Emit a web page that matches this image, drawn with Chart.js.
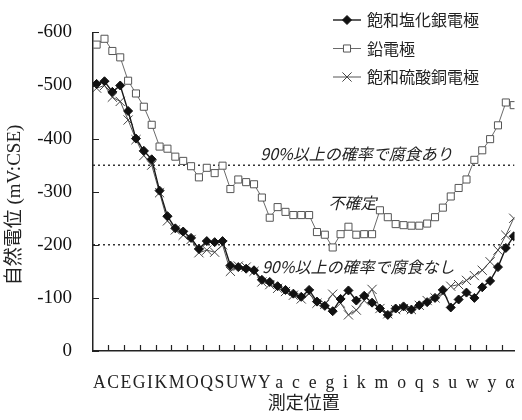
<!DOCTYPE html>
<html>
<head>
<meta charset="utf-8">
<script src="https://cdn.jsdelivr.net/npm/chart.js@4.4.0/dist/chart.umd.min.js"></script>
<style>
html, body { margin: 0; padding: 0; background: #fff; }
canvas { display: block; }
</style>
</head>
<body>
<canvas id="myChart" width="522" height="420"></canvas>
<script>
// tick letters under the x axis (every other measuring point)
var upperTicks = ['A','C','E','G','I','K','M','O','Q','S','U','W','Y'];
var lowerTicks = ['a','c','e','g','i','k','m','o','q','s','u','w','y','α'];

var seriesNames = ['飽和塩化銀電極', '鉛電極', '飽和硫酸銅電極'];

var agclValues = [-503,-508,-488,-500,-452,-400,-377,-361,-302,-254,
                  -231,-225,-213,-192,-207,-205,-207,-161,-158,-155,
                  -152,-134,-130,-122,-115,-108,-102,-115,-93,-85,
                  -75,-98,-114,-95,-104,-91,-80,-68,-80,-84,
                  -78,-86,-92,-100,-115,-82,-97,-110,-100,-120,
                  -132,-158,-194,-216];
var leadValues = [-577,-588,-565,-553,-509,-485,-460,-426,-385,-381,
                  -366,-358,-348,-327,-345,-335,-349,-305,-323,-318,
                  -314,-289,-251,-271,-262,-256,-256,-256,-224,-219,
                  -195,-220,-234,-219,-220,-220,-265,-252,-239,-237,
                  -236,-236,-240,-252,-270,-291,-307,-323,-360,-378,
                  -399,-425,-468,-463];
var cuso4Values = [-495,-500,-478,-470,-435,-398,-368,-350,-298,-245,
                   -228,-218,-210,-185,-190,-186,-200,-150,-160,-158,
                   -150,-130,-125,-118,-112,-105,-98,-108,-90,-88,
                   -107,-90,-68,-77,-95,-116,-80,-70,-78,-80,
                   -78,-86,-95,-100,-108,-122,-125,-133,-142,-152,
                   -168,-190,-218,-250];

// 90% probability borders
var thresholds = [-350, -200];
var zoneTexts = ['90%以上の確率で腐食あり', '不確定', '90%以上の確率で腐食なし'];

var xMin = -0.46, xMax = 53.1;

function toPoints(vals) {
  return vals.map(function(v, i) { return {x: i, y: v}; });
}

var xLabelRow = upperTicks.join('\u200A') + ' ' + lowerTicks.join('  ');

var serifCJK = '"Liberation Serif", "Noto Sans CJK JP"';

// where the zone captions sit (in data units)
var zoneAnchors = [
  {x: 20.8, y: -372, align: 'left'},
  {x: 32.5, y: -278, align: 'center'},
  {x: 21.0, y: -159, align: 'left'}
];

var zonePlugin = {
  id: 'zoneText',
  afterDatasetsDraw: function(chart) {
    var ctx = chart.ctx, xs = chart.scales.x, ys = chart.scales.y;
    ctx.save();
    ctx.font = 'italic 16px "Noto Sans CJK JP"';
    ctx.fillStyle = '#222';
    ctx.textBaseline = 'middle';
    zoneTexts.forEach(function(t, i) {
      var a = zoneAnchors[i];
      ctx.textAlign = a.align;
      ctx.fillText(t, xs.getPixelForValue(a.x), ys.getPixelForValue(a.y));
    });
    ctx.restore();
  }
};

// tick marks point into the plot, like the printed figure
var innerTicks = {
  id: 'innerTicks',
  afterDraw: function(chart) {
    var ctx = chart.ctx, xs = chart.scales.x, ys = chart.scales.y;
    var area = chart.chartArea;
    ctx.save();
    ctx.strokeStyle = '#222';
    ctx.lineWidth = 1.2;
    ctx.beginPath();
    xs.ticks.forEach(function(t) {
      var px = Math.round(xs.getPixelForValue(t.value)) + 0.5;
      ctx.moveTo(px, area.bottom);
      ctx.lineTo(px, area.bottom - 6);
    });
    ys.ticks.forEach(function(t) {
      var py = Math.round(ys.getPixelForValue(t.value)) + 0.5;
      ctx.moveTo(area.left, py);
      ctx.lineTo(area.left + 6, py);
    });
    ctx.stroke();
    ctx.restore();
  }
};

var yTitlePlugin = {
  id: 'yTitle',
  afterDraw: function(chart) {
    var ctx = chart.ctx;
    ctx.save();
    ctx.translate(15, 205);
    ctx.rotate(-Math.PI / 2);
    ctx.font = '19px ' + serifCJK;
    ctx.fillStyle = '#222';
    ctx.textAlign = 'center';
    ctx.textBaseline = 'middle';
    ctx.fillText('自然電位 (mV:CSE)', 0, 0);
    ctx.restore();
  }
};

var legendPlugin = {
  id: 'boxLegend',
  afterDraw: function(chart) {
    var ctx = chart.ctx;
    ctx.save();
    ctx.font = '16px "Noto Sans CJK JP"';
    ctx.textBaseline = 'middle';
    ctx.textAlign = 'left';
    for (var i = 0; i < seriesNames.length; i++) {
      var ds = chart.data.datasets[i];
      var y = 20 + i * 28.5;
      ctx.strokeStyle = ds.borderColor;
      ctx.lineWidth = ds.borderWidth;
      ctx.beginPath();
      ctx.moveTo(333, y);
      ctx.lineTo(361, y);
      ctx.stroke();
      ctx.fillStyle = ds.pointBackgroundColor;
      ctx.strokeStyle = ds.pointBorderColor;
      ctx.lineWidth = ds.pointBorderWidth;
      Chart.helpers.drawPoint(ctx, {
        pointStyle: ds.pointStyle, radius: ds.pointRadius,
        rotation: 0, borderWidth: ds.pointBorderWidth
      }, 347, y);
      ctx.fillStyle = '#222';
      ctx.fillText(ds.label, 367, y);
    }
    ctx.restore();
  }
};

var datasets = [{
  label: seriesNames[0],
  data: toPoints(agclValues),
  borderColor: '#1a1a1a',
  borderWidth: 1.4,
  pointStyle: 'rectRot',
  pointRadius: 4.5,
  pointBackgroundColor: '#111',
  pointBorderColor: '#111',
  pointBorderWidth: 1
}, {
  label: seriesNames[1],
  data: toPoints(leadValues),
  borderColor: '#6a6a6a',
  borderWidth: 1,
  pointStyle: 'rect',
  pointRadius: 5,
  pointBackgroundColor: '#fff',
  pointBorderColor: '#555',
  pointBorderWidth: 1
}, {
  label: seriesNames[2],
  data: toPoints(cuso4Values),
  borderColor: '#555',
  borderWidth: 1,
  pointStyle: 'crossRot',
  pointRadius: 6.5,
  pointBackgroundColor: '#444',
  pointBorderColor: '#444',
  pointBorderWidth: 1
}];

thresholds.forEach(function(t) {
  datasets.push({
    label: 'border' + t,
    data: [{x: xMin, y: t}, {x: xMax, y: t}],
    borderColor: '#333',
    borderWidth: 1.5,
    borderDash: [2, 3],
    pointRadius: 0
  });
});

var ctx = document.getElementById('myChart').getContext('2d');
var myChart = new Chart(ctx, {
  type: 'line',
  data: { datasets: datasets },
  options: {
    responsive: false,
    animation: false,
    layout: { padding: { top: 19, right: 0, bottom: 0, left: 0 } },
    plugins: { legend: { display: false }, tooltip: { enabled: false } },
    elements: { line: { tension: 0 } },
    scales: {
      x: {
        type: 'linear',
        min: xMin,
        max: xMax,
        afterBuildTicks: function(s) {
          var t = [];
          for (var v = 1.5; v < xMax; v += 2) t.push({value: v});
          s.ticks = t;
        },
        afterFit: function(s) { s.height = 69; },
        ticks: { display: false },
        grid: { display: false, drawTicks: false },
        border: { display: true, color: '#222', width: 1.5 },
        title: {
          display: true,
          text: [xLabelRow, '測定位置'],
          color: '#222',
          font: { family: serifCJK, size: 18, lineHeight: 1.17 },
          padding: { top: 0, bottom: 5 }
        }
      },
      y: {
        type: 'linear',
        reverse: true,
        min: -600,
        max: 0,
        afterFit: function(s) { s.width = 93; },
        ticks: { stepSize: 100, color: '#111', padding: 21, font: { family: '"Liberation Serif"', size: 19 } },
        grid: { display: false, drawTicks: false },
        border: { display: true, color: '#222', width: 1.5 }
      }
    }
  },
  plugins: [zonePlugin, innerTicks, yTitlePlugin, legendPlugin]
});
</script>
</body>
</html>
